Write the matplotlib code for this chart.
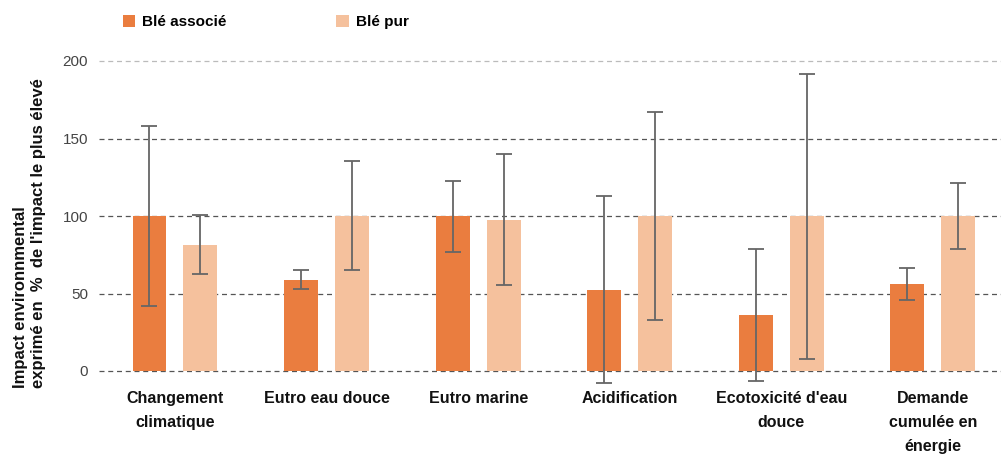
import numpy as np
import matplotlib
matplotlib.use("Agg")
import matplotlib.pyplot as plt

plt.rcParams['font.family'] = ['Liberation Sans', 'DejaVu Sans']

# impact categories and values (% of highest impact)
categories = ["Changement\nclimatique", "Eutro eau douce", "Eutro marine",
              "Acidification", "Ecotoxicité d'eau\ndouce", "Demande\ncumulée en\nénergie"]
assoc = [100, 58.5, 100, 52.5, 36.4, 55.9]
assoc_lo = [42.1, 52.7, 76.8, -7.7, -6.2, 46.0]
assoc_hi = [158.3, 65.0, 122.8, 113.0, 78.6, 66.2]
pur = [81.3, 100, 97.4, 100, 100, 100]
pur_lo = [62.6, 65.0, 55.5, 32.8, 8.0, 78.6]
pur_hi = [100.5, 135.3, 139.8, 167.4, 191.4, 121.0]
yticks = [0, 50, 100, 150, 200]

c_assoc = '#EA7D3F'
c_pur = '#F5C19D'
c_err = '#666666'

W, H = 1001, 455
fig = plt.figure(figsize=(W / 100, H / 100), dpi=100)
ymin, ymax = -10, 205
ax = fig.add_axes([99 / W, (H - 386.5) / H, 1 - 99 / W, (386.5 - 53.25) / H])

x = np.arange(len(categories))
off, bw = 0.168, 0.224

# dashed horizontal gridlines
for t in yticks:
    ax.axhline(t, color='#BBBBBB' if t == 200 else '#555555', lw=0.9,
               ls=(0, (4, 3)), zorder=1)

assoc = np.array(assoc)
pur = np.array(pur)
ax.bar(x - off, assoc, bw, color=c_assoc, zorder=2, label='Blé associé')
ax.bar(x + off, pur, bw, color=c_pur, zorder=2, label='Blé pur')

ax.errorbar(x - off, assoc, yerr=[assoc - np.array(assoc_lo), np.array(assoc_hi) - assoc],
            fmt='none', ecolor=c_err, elinewidth=1.3, capsize=6, capthick=1.3, zorder=3)
ax.errorbar(x + off, pur, yerr=[pur - np.array(pur_lo), np.array(pur_hi) - pur],
            fmt='none', ecolor=c_err, elinewidth=1.3, capsize=6, capthick=1.3, zorder=3)

ax.set_xlim(-0.501, 5.449)
ax.set_ylim(ymin, ymax)
ax.set_yticks(yticks)
ax.set_yticklabels([str(t) for t in yticks], fontsize=11, color='#444444')
ax.set_xticks(x)
ax.set_xticklabels(categories, fontsize=11.5, fontweight='bold', color='#111111',
                   linespacing=1.75, va='top')
ax.tick_params(axis='y', length=0, pad=8)
ax.tick_params(axis='x', length=0, pad=3)
for s in ax.spines.values():
    s.set_visible(False)

fig.text(29.5 / W, (H - 388) / H,
         "Impact environnmental\nexprimé en  %  de l'impact le plus élevé",
         rotation=90, ha='center', va='bottom', multialignment='left',
         fontsize=12, fontweight='bold', color='#111111', linespacing=1.2)

fig.legend(loc='upper left', bbox_to_anchor=(123 / W, 1 - 15 / H), ncol=2,
           frameon=False, prop={'weight': 'bold', 'size': 11},
           handlelength=0.8, handleheight=0.8, handletextpad=0.45,
           columnspacing=7.2, borderpad=0, borderaxespad=0)

fig.savefig('out.png', dpi=100, facecolor='white')
